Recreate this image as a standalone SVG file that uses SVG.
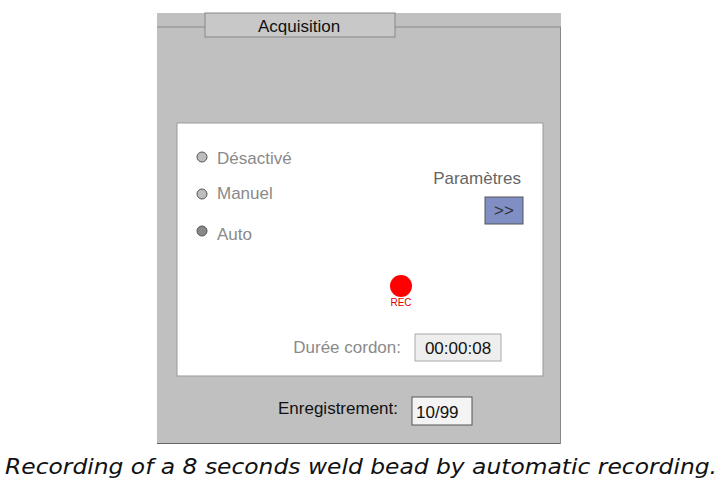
<svg xmlns="http://www.w3.org/2000/svg" width="722" height="488" viewBox="0 0 722 488">
<style>
.t{font-family:"Liberation Sans",Arial,sans-serif;font-size:17px}
.g{fill:#8a8a8a}
.radio{fill:#bdbdbd;stroke:#555;stroke-width:1}
</style>
<rect width="722" height="488" fill="#fff"/>
<g id="panel">
<rect x="157" y="13" width="404" height="431" fill="#c0c0c0"/>
<line x1="157" y1="27" x2="561" y2="27" stroke="#888"/>
<line x1="157" y1="443.5" x2="561" y2="443.5" stroke="#666"/>
<line x1="560.5" y1="27" x2="560.5" y2="444" stroke="#888"/>
</g>
<g id="tab">
<rect x="205" y="13" width="190" height="24" fill="#c8c8c8" stroke="#888"/>
<text x="299" y="32" text-anchor="middle" class="t" fill="#111">Acquisition</text>
</g>
<g id="inner">
<rect x="177" y="123" width="366" height="253" fill="#fff" stroke="#999"/>
<circle cx="202" cy="157" r="5" class="radio"/>
<text x="217" y="164" class="t g">Désactivé</text>
<circle cx="202" cy="194" r="5" class="radio"/>
<text x="217" y="199" class="t g">Manuel</text>
<circle cx="202" cy="231" r="5" fill="#888" stroke="#555"/>
<text x="217" y="240" class="t g">Auto</text>
<text x="521" y="184" text-anchor="end" class="t" fill="#666">Paramètres</text>
<rect x="485" y="197" width="38" height="27" fill="#7f8fc4" stroke="#555"/>
<text x="504" y="216" text-anchor="middle" class="t" fill="#333" font-size="14">&gt;&gt;</text>
<circle cx="401" cy="286" r="11" fill="#f00"/>
<text x="401" y="306" text-anchor="middle" font-family="Liberation Sans,sans-serif" font-size="10" fill="#d00">REC</text>
<text x="401" y="353" text-anchor="end" class="t g">Durée cordon:</text>
<rect x="415" y="334" width="86" height="27" fill="#eee" stroke="#aaa"/>
<text x="458" y="354" text-anchor="middle" class="t" font-size="14" fill="#111">00:00:08</text>
</g>
<g id="count">
<text x="398" y="414" text-anchor="end" class="t" fill="#111">Enregistrement:</text>
<rect x="412" y="397" width="60" height="28" fill="#f4f4f4" stroke="#555"/>
<text x="416" y="418" class="t" fill="#111">10/99</text>
</g>
<text x="5" y="474" font-family="DejaVu Sans,sans-serif" font-style="italic" font-size="21" textLength="712" lengthAdjust="spacingAndGlyphs" fill="#111">Recording of a 8 seconds weld bead by automatic recording.</text>
</svg>
